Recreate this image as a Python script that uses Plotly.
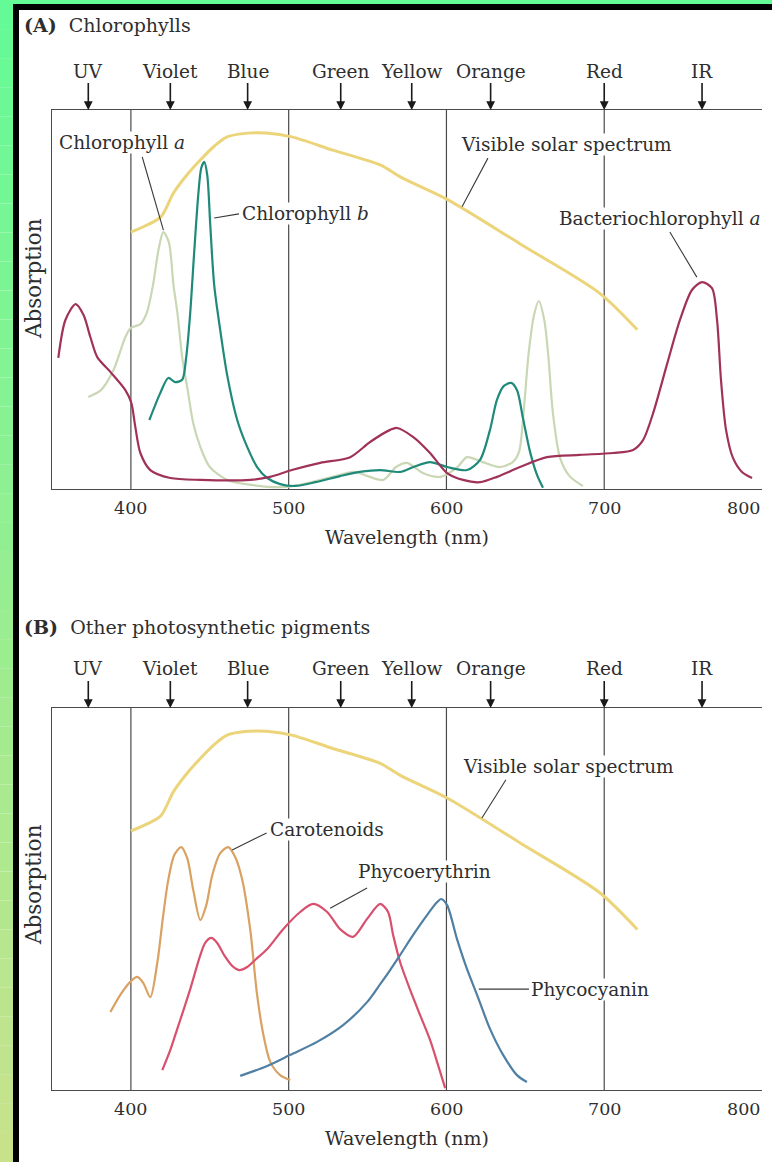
import plotly.graph_objects as go

W, H = 772, 1162

# relative absorption: 0 = baseline, 1 = top rule of each panel
solar_nm = [400, 409, 419, 427, 436, 444, 453, 461, 474, 486, 502, 528, 558, 571, 601, 647, 697, 721]
solar_abs = [0.678, 0.694, 0.718, 0.781, 0.831, 0.868, 0.905, 0.929, 0.939, 0.939, 0.929, 0.894,
             0.855, 0.823, 0.763, 0.646, 0.517, 0.42]

chl_a_nm = [373, 381, 389, 396.5, 400, 406, 410, 414, 417.5, 420.5, 424, 427, 429.5, 432.5, 436, 439.5,
            444, 450, 461, 476, 495, 507, 528, 542, 550, 560, 568, 575, 585, 596, 607, 613, 623, 634,
            642, 646, 649, 652, 655.5, 658.5, 662, 664.5, 667.5, 672, 678, 686.5]
chl_a_abs = [0.243, 0.261, 0.314, 0.401, 0.425, 0.435, 0.464, 0.538, 0.631, 0.678, 0.652, 0.538, 0.464,
             0.348, 0.261, 0.174, 0.111, 0.058, 0.024, 0.011, 0.005, 0.011, 0.032, 0.045, 0.034, 0.024,
             0.058, 0.069, 0.042, 0.032, 0.058, 0.084, 0.071, 0.058, 0.071, 0.098, 0.208, 0.354, 0.459,
             0.496, 0.446, 0.354, 0.2, 0.082, 0.034, 0.008]

chl_b_nm = [411.7, 418.6, 423.7, 428, 432.5, 435, 437.5, 440, 442.7, 444.6, 446.5, 448.4, 450.3, 452.8,
            456.6, 461, 467.4, 473.7, 480, 486.4, 494.6, 504, 517, 532.6, 545, 558, 570.6, 579, 589.6,
            600.4, 613, 621.3, 627.6, 632, 636.4, 641, 644.7, 648.5, 653, 657.4, 661.2]
chl_b_abs = [0.182, 0.253, 0.293, 0.282, 0.288, 0.346, 0.459, 0.617, 0.776, 0.847, 0.863, 0.828, 0.697,
             0.538, 0.42, 0.301, 0.182, 0.111, 0.058, 0.029, 0.013, 0.008, 0.018, 0.034, 0.045, 0.05,
             0.045, 0.058, 0.071, 0.058, 0.05, 0.077, 0.156, 0.235, 0.272, 0.28, 0.261, 0.187, 0.098,
             0.037, 0.003]

bchl_nm = [354, 358.5, 365, 370, 374.3, 378.7, 387, 396.5, 400.3, 402.8, 406, 412.3, 425, 444, 475.6,
           488.3, 502, 520, 539, 551.6, 564.3, 568.7, 579, 589.6, 600.4, 610.5, 621.3, 632, 646.6, 663.7,
           684.6, 705.6, 718.3, 724.6, 731, 740, 748, 755.6, 762, 768.3, 771.5, 774, 777.2, 781.6, 787.3,
           793.7]
bchl_abs = [0.346, 0.446, 0.488, 0.459, 0.401, 0.348, 0.309, 0.261, 0.227, 0.164, 0.095, 0.05, 0.029,
            0.024, 0.024, 0.032, 0.05, 0.069, 0.084, 0.124, 0.156, 0.161, 0.137, 0.095, 0.042, 0.024,
            0.018, 0.032, 0.058, 0.084, 0.09, 0.095, 0.103, 0.129, 0.2, 0.332, 0.446, 0.525, 0.546, 0.53,
            0.446, 0.288, 0.156, 0.082, 0.045, 0.029]

carot_nm = [387, 393.3, 399.6, 404, 407.9, 412.3, 416.8, 420.5, 423.7, 427.5, 431.9, 435.7, 439.5, 444,
            447.8, 451.6, 456.6, 461.7, 466.1, 470.6, 475.6, 480, 484, 488.4, 494.6, 501]
carot_abs = [0.204, 0.249, 0.283, 0.296, 0.28, 0.243, 0.335, 0.458, 0.55, 0.615, 0.636, 0.607, 0.524,
             0.445, 0.484, 0.563, 0.62, 0.636, 0.61, 0.55, 0.421, 0.249, 0.144, 0.073, 0.039, 0.026]

phycoery_nm = [419.9, 425, 429.4, 433.8, 437.6, 444, 447.1, 450.9, 454.7, 459.1, 464.2, 468.6, 473.7,
               479.4, 486.4, 496.5, 507.3, 515.5, 524.4, 532.6, 540.8, 549.7, 558, 563, 566.2, 570.6,
               577, 583.3, 589.6, 594.7, 599.2]
phycoery_abs = [0.052, 0.105, 0.16, 0.215, 0.264, 0.353, 0.385, 0.398, 0.385, 0.353, 0.325, 0.314, 0.322,
                0.343, 0.369, 0.421, 0.466, 0.487, 0.466, 0.421, 0.401, 0.448, 0.487, 0.466, 0.406,
                0.335, 0.262, 0.196, 0.131, 0.065, 0.005]

phycocy_nm = [469.3, 486.4, 501, 518, 534.5, 549.7, 558, 564.3, 570.6, 578.9, 587.7, 594.1, 596.6, 600.4,
              606.7, 613, 619.4, 627.6, 635.9, 644.7, 651]
phycocy_abs = [0.037, 0.063, 0.092, 0.126, 0.17, 0.23, 0.277, 0.314, 0.353, 0.406, 0.458, 0.492, 0.5,
               0.484, 0.395, 0.317, 0.249, 0.16, 0.092, 0.039, 0.021]

band_names = ["UV", "Violet", "Blue", "Green", "Yellow", "Orange", "Red", "IR"]
band_nm = [373, 425, 474, 533, 578, 628, 700, 762]
divider_nm = [400, 500, 600, 700]
tick_nm = [400, 500, 600, 700, 800]

FONT = "DejaVu Serif"
TXT = "#2e2e2e"
RULE = "#4a4a4a"


def px_x(p):
    return p / W


def px_y(p):
    return 1 - p / H


fig = go.Figure()


def add_curve(nm, vals, color, width, panel):
    fig.add_trace(go.Scatter(
        x=nm, y=vals, mode="lines",
        line=dict(color=color, width=width, shape="spline", smoothing=0.8),
        xaxis="x" + panel, yaxis="y" + panel,
        hoverinfo="skip", showlegend=False,
    ))


# (A) chlorophylls
add_curve(solar_nm, solar_abs, "#ecd47a", 3, "")
add_curve(chl_a_nm, chl_a_abs, "#c9d7b4", 2.2, "")
add_curve(chl_b_nm, chl_b_abs, "#1f8a7a", 2.2, "")
add_curve(bchl_nm, bchl_abs, "#a0325a", 2.2, "")
# (B) other pigments
add_curve(solar_nm, solar_abs, "#ecd47a", 3, "2")
add_curve(carot_nm, carot_abs, "#d9a262", 2.2, "2")
add_curve(phycoery_nm, phycoery_abs, "#d8506e", 2.2, "2")
add_curve(phycocy_nm, phycocy_abs, "#4f7fa2", 2.2, "2")

panels = {
    "": dict(title="<b>(A)</b>  Chlorophylls", title_y=25, ylab=279),
    "2": dict(title="<b>(B)</b>  Other photosynthetic pigments", title_y=627, ylab=885),
}

font = dict(family=FONT, size=18.5, color=TXT)
annotations = []
shapes = []

for key, p in panels.items():
    xr, yr = "x" + key, "y" + key
    for nm in divider_nm:
        shapes.append(dict(type="line", xref=xr, yref=yr + " domain", x0=nm, x1=nm, y0=0, y1=1,
                           line=dict(color=RULE, width=1.2), layer="below"))
    for name, nm in zip(band_names, band_nm):
        annotations.append(dict(x=nm, y=1, xref=xr, yref=yr + " domain", text=name, showarrow=True,
                                ax=0, ay=-39, arrowhead=2, arrowsize=1.1, arrowwidth=1.6,
                                arrowcolor="#1a1a1a", font=font))
    for nm in tick_nm:
        annotations.append(dict(x=nm, y=0, xref=xr, yref=yr + " domain", text=str(nm), showarrow=False,
                                yshift=-19, yanchor="middle",
                                xanchor="right" if nm == tick_nm[-1] else "center",
                                font=dict(family=FONT, size=17.5, color=TXT)))
    annotations.append(dict(x=0.5, y=0, xref=xr + " domain", yref=yr + " domain",
                            text="Wavelength (nm)", showarrow=False, yshift=-48,
                            xanchor="center", yanchor="middle",
                            font=dict(family=FONT, size=19, color=TXT)))
    annotations.append(dict(x=px_x(33), y=px_y(p["ylab"]), xref="paper", yref="paper",
                            text="Absorption", textangle=-90, showarrow=False,
                            xanchor="center", yanchor="middle",
                            font=dict(family=FONT, size=21.5, color=TXT)))
    annotations.append(dict(x=px_x(22), y=px_y(p["title_y"]), xref="paper", yref="paper",
                            text=p["title"], showarrow=False, xanchor="left", yanchor="middle",
                            font=dict(family=FONT, size=19, color=TXT)))

# curve labels: (panel, text, text x, text y, leader start, leader end)
labels = [
    ("", "Chlorophyll <i>a</i>", 354, 0.913, (407.2, 0.876), (420.6, 0.683)),
    ("", "Chlorophyll <i>b</i>", 469.5, 0.726, (468.5, 0.726), (452.8, 0.715)),
    ("", "Visible solar spectrum", 608.6, 0.910, (626.3, 0.873), (609.9, 0.745)),
    ("", "Bacteriochlorophyll <i>a</i>", 670.7, 0.715, (741.6, 0.678), (758.7, 0.559)),
    ("2", "Carotenoids", 487.5, 0.683, (486, 0.673), (464.2, 0.628)),
    ("2", "Phycoerythrin", 543.4, 0.571, (549.7, 0.529), (526.3, 0.476)),
    ("2", "Visible solar spectrum", 609.9, 0.846, (637.7, 0.812), (622.5, 0.712)),
    ("2", "Phycocyanin", 653.2, 0.264, (652.3, 0.264), (620.5, 0.264)),
]
for key, text, tx, ty, (x0, y0), (x1, y1) in labels:
    shapes.append(dict(type="line", xref="x" + key, yref="y" + key, x0=x0, y0=y0, x1=x1, y1=y1,
                       line=dict(color="#3a3a3a", width=1.1)))
    annotations.append(dict(x=tx, y=ty, xref="x" + key, yref="y" + key, text=text, showarrow=False,
                            xanchor="left", yanchor="middle", bgcolor="white", borderpad=0, font=font))

# frame: green strips with a vertical gradient on the left, black rules inside
top_rgb, bot_rgb = (100, 250, 150), (200, 226, 140)
steps = 40
for i in range(steps):
    t = i / (steps - 1)
    c = tuple(round(a + (b - a) * t) for a, b in zip(top_rgb, bot_rgb))
    shapes.append(dict(type="rect", xref="paper", yref="paper", x0=0, x1=px_x(13),
                       y0=px_y(H * (i + 1) / steps), y1=px_y(H * i / steps),
                       fillcolor="rgb(%d,%d,%d)" % c, line_width=0))
shapes.append(dict(type="rect", xref="paper", yref="paper", x0=0, x1=1, y0=px_y(4), y1=1,
                   fillcolor="rgb(100,250,150)", line_width=0))
shapes.append(dict(type="rect", xref="paper", yref="paper", x0=px_x(13), x1=1, y0=px_y(10), y1=px_y(4),
                   fillcolor="black", line_width=0))
shapes.append(dict(type="rect", xref="paper", yref="paper", x0=px_x(13), x1=px_x(19), y0=0, y1=px_y(4),
                   fillcolor="black", line_width=0))

x_common = dict(range=[350, 800], showline=True, mirror=True, linecolor=RULE, linewidth=1.2,
                showgrid=False, zeroline=False, showticklabels=False, ticks="",
                domain=[px_x(52), px_x(762)])
y_common = dict(range=[0, 1], showline=True, mirror=False, linecolor=RULE, linewidth=1.2,
                showgrid=False, zeroline=False, showticklabels=False, ticks="")

fig.update_layout(
    width=W, height=H,
    margin=dict(l=0, r=0, t=0, b=0),
    paper_bgcolor="white", plot_bgcolor="white",
    xaxis=dict(x_common, anchor="y"),
    yaxis=dict(y_common, anchor="x", domain=[px_y(489), px_y(110)]),
    xaxis2=dict(x_common, anchor="y2"),
    yaxis2=dict(y_common, anchor="x2", domain=[px_y(1090), px_y(708)]),
    shapes=shapes,
    annotations=annotations,
    showlegend=False,
)

# the page body keeps its default 8px margin otherwise
fig.write_html("out.html", config={"displayModeBar": False},
               post_script="document.body.style.margin = '0';")
